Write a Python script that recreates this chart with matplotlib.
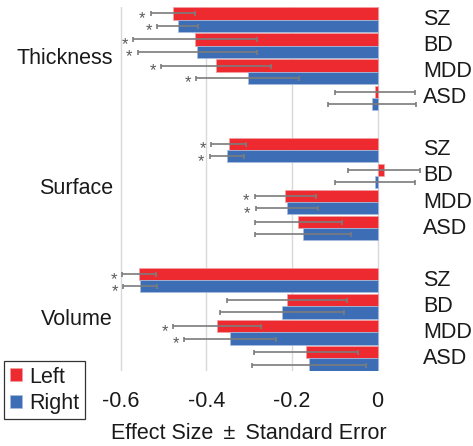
import numpy as np
import matplotlib
matplotlib.use("Agg")
import matplotlib.pyplot as plt

plt.rcParams['font.family'] = ['Liberation Sans', 'DejaVu Sans']

measures = ['Thickness', 'Surface', 'Volume']
disorders = ['SZ', 'BD', 'MDD', 'ASD']

# effect sizes and standard errors, ordered Thickness SZ..ASD, Surface SZ..ASD, Volume SZ..ASD
left_es = [-0.478, -0.426, -0.378, -0.007, -0.348, 0.015, -0.216, -0.185, -0.557, -0.212, -0.375, -0.167]
left_se = [0.052, 0.144, 0.128, 0.093, 0.041, 0.084, 0.071, 0.102, 0.040, 0.140, 0.102, 0.121]
right_es = [-0.467, -0.421, -0.303, -0.014, -0.352, -0.007, -0.212, -0.174, -0.555, -0.223, -0.345, -0.160]
right_se = [0.048, 0.139, 0.120, 0.103, 0.040, 0.093, 0.073, 0.112, 0.039, 0.145, 0.107, 0.133]
left_sig = [1, 1, 1, 0, 1, 0, 1, 0, 1, 0, 1, 0]
right_sig = [1, 1, 1, 0, 1, 0, 1, 0, 1, 0, 1, 0]

red = '#EC2A30'
blue = '#3D6DB5'
grey = '#7c7c7c'
txt = '#1a1a1a'

fig = plt.figure(figsize=(4.73, 4.46), dpi=100)
# axes placed so that x=0 sits at ~378 px and 0.2 units ~ 86 px
ax = fig.add_axes([99.2 / 473, 75.3 / 446, 329.9 / 473, 363.4 / 446])

slots = np.array([m * 5 + d for m in range(len(measures)) for d in range(len(disorders))])
h = 0.47
y_left = slots - h / 2
y_right = slots + h / 2

ax.barh(y_left, left_es, height=h, color=red, edgecolor='#f3a0a3', linewidth=0.5, label='Left', zorder=2)
ax.barh(y_right, right_es, height=h, color=blue, edgecolor='#a9bfe0', linewidth=0.5, label='Right', zorder=2)

ax.errorbar(left_es, y_left, xerr=left_se, fmt='none', ecolor=grey, elinewidth=1.2,
            capsize=1.8, capthick=1.2, zorder=3)
ax.errorbar(right_es, y_right, xerr=right_se, fmt='none', ecolor=grey, elinewidth=1.2,
            capsize=1.8, capthick=1.2, zorder=3)

for es, se, y, s in zip(left_es + right_es, left_se + right_se,
                        list(y_left) + list(y_right), left_sig + right_sig):
    if s:
        ax.text(es - se - 0.012, y + 0.2, '*', ha='right', va='center',
                fontsize=12, color='#5a5a5a')

for m, name in enumerate(measures):
    ax.text(-0.618, m * 5 + 1.5, name, ha='right', va='center', fontsize=15.5, color=txt)
    for d, dis in enumerate(disorders):
        ax.text(0.106, m * 5 + d, dis, ha='left', va='center', fontsize=15.5, color=txt)

ax.set_xlim(-0.65, 0.12)
ax.set_ylim(13.47, -0.47)
ax.set_xticks([-0.6, -0.4, -0.2, 0])
ax.set_xticklabels(['-0.6', '-0.4', '-0.2', '0'], fontsize=15.5, color=txt)
ax.set_yticks([])
ax.tick_params(axis='x', length=0, pad=14.5)
for sp in ax.spines.values():
    sp.set_visible(False)
ax.grid(axis='x', color='#d9d9d9', linewidth=1, zorder=0)
ax.set_axisbelow(True)

ax.set_xlabel('Effect Size \u2009\u00b1\u2009 Standard Error', fontsize=15.5, color=txt)
ax.xaxis.set_label_coords((249 - 99.2) / 329.9, -0.145)

leg = fig.legend(loc='lower left', bbox_to_anchor=(4.3 / 473, 26.7 / 446), borderaxespad=0,
                 fontsize=15.5, handlelength=0.55, handleheight=0.55, handletextpad=0.35,
                 labelspacing=0.25, borderpad=0.25, fancybox=False, framealpha=1)
leg.get_frame().set_edgecolor('#333333')
leg.get_frame().set_linewidth(0.9)
for t in leg.get_texts():
    t.set_color(txt)

fig.savefig('out.png', dpi=100)
